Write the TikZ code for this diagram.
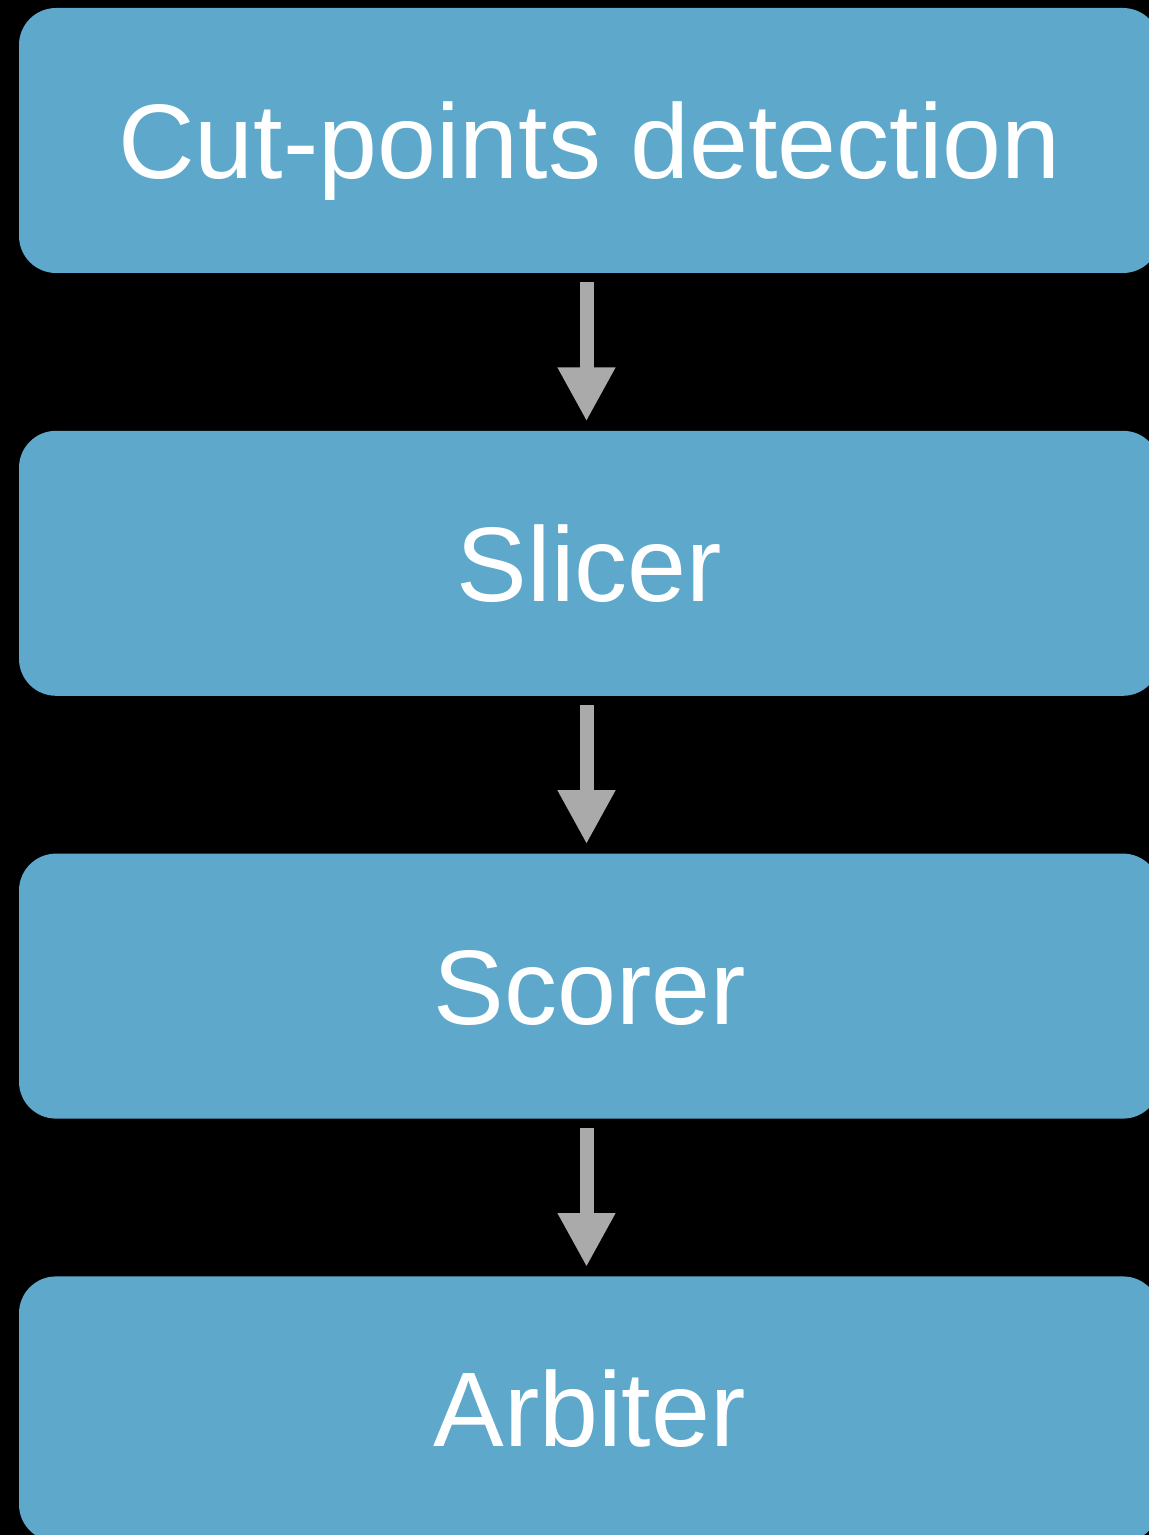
\documentclass[tikz,border=0pt]{standalone}
\usepackage{fontspec}
\setmainfont{Liberation Sans}
\usetikzlibrary{positioning,arrows.meta}
\definecolor{stagefill}{RGB}{93,168,203}
\definecolor{flowgray}{RGB}{170,170,170}

\begin{document}
\begin{tikzpicture}[x=0.5pt,y=-0.5pt,>={Triangle[length=27pt,width=27pt]},
  stage/.style={rectangle,rounded corners=18.5pt,fill=stagefill,text=white,
    minimum width=570.5pt,minimum height=132.5pt,inner sep=0pt,
    text height=38pt,text depth=0pt,font=\fontsize{53}{58}\selectfont},
  node distance=78.5pt]
  % black page
  \fill[black] (0,0) rectangle (1149,1535);
  \useasboundingbox (0,0) rectangle (1149,1535);
  % pipeline stages
  \node[stage] (cut) at (589.5,140.5) {Cut-points detection};
  \node[stage,below=of cut] (slicer) {Slicer};
  \node[stage,below=of slicer] (scorer) {Scorer};
  \node[stage,below=of scorer] (arbiter) {Arbiter};
  \foreach \a/\b in {cut/slicer,slicer/scorer,scorer/arbiter}
    {\draw[->,flowgray,line width=7pt,shorten <=4.5pt,shorten >=4.5pt]
      ([xshift=-1.5pt]\a.south) -- ([xshift=-1.5pt]\b.north);}
\end{tikzpicture}
\end{document}
